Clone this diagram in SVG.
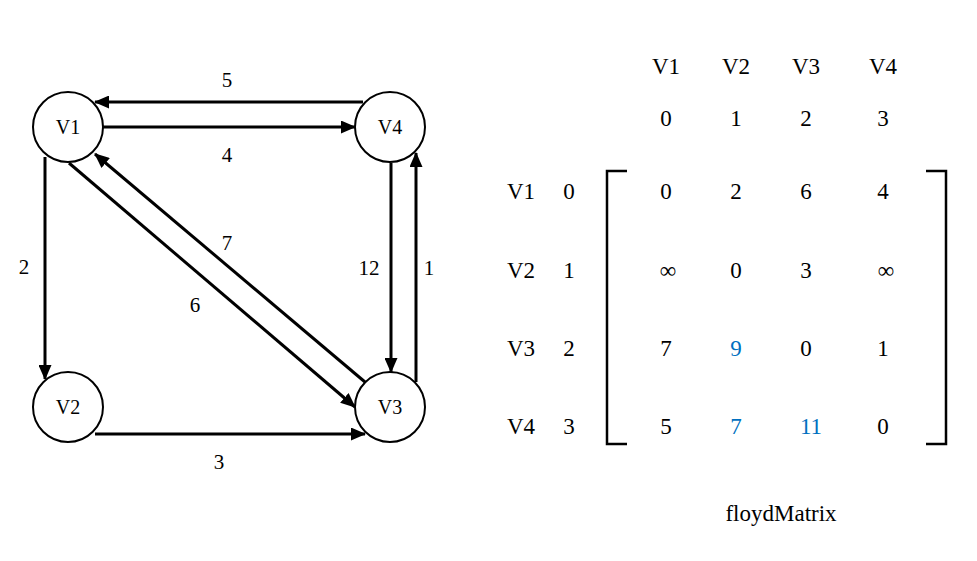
<svg xmlns="http://www.w3.org/2000/svg" width="977" height="561" viewBox="0 0 977 561" font-family="'Liberation Serif','Times New Roman',serif">
<style>
text{font-family:"Liberation Serif","Times New Roman","DejaVu Serif",serif;fill:#000;text-anchor:middle}
.node circle{fill:#fff;stroke:#000;stroke-width:2}
.node text{font-size:20px}
.edge{stroke:#000;stroke-width:3;fill:none;marker-end:url(#arr)}
.el{font-size:21px}
.m{font-size:23px}
.b{fill:#0070C0}
.br{stroke:#000;stroke-width:2.5;fill:none}
</style>
<defs>
<marker id="arr" markerUnits="userSpaceOnUse" markerWidth="15" markerHeight="13" refX="14" refY="6.5" orient="auto">
<path d="M0,0 L15,6.5 L0,13 z" fill="#000"/>
</marker>
</defs>
<rect width="977" height="561" fill="#fff"/>
<g id="connectors">
<line class="edge" x1="363" y1="102" x2="95" y2="102"/>
<line class="edge" x1="103" y1="127" x2="355" y2="127"/>
<line class="edge" x1="45" y1="157" x2="45" y2="379"/>
<line class="edge" x1="95" y1="434" x2="365" y2="434"/>
<line class="edge" x1="391" y1="163" x2="391" y2="372"/>
<line class="edge" x1="416" y1="382" x2="416" y2="153"/>
<line class="edge" x1="69" y1="163" x2="355" y2="407"/>
<line class="edge" x1="365" y1="382" x2="95" y2="154"/>
</g>
<g id="edge-labels">
<text class="el" x="227" y="87">5</text>
<text class="el" x="227" y="162">4</text>
<text class="el" x="24" y="274">2</text>
<text class="el" x="227" y="250">7</text>
<text class="el" x="195" y="312">6</text>
<text class="el" x="369" y="275">12</text>
<text class="el" x="429" y="275">1</text>
<text class="el" x="219" y="469">3</text>
</g>
<g id="V1" class="node"><circle cx="68" cy="127" r="35"/><text x="68" y="134">V1</text></g>
<g id="V4" class="node"><circle cx="390" cy="127" r="35"/><text x="390" y="134">V4</text></g>
<g id="V2" class="node"><circle cx="68" cy="407" r="35"/><text x="68" y="414">V2</text></g>
<g id="V3" class="node"><circle cx="390" cy="407" r="35"/><text x="390" y="414">V3</text></g>
<g id="matrix">
<g class="m">
<text x="666" y="74">V1</text><text x="736" y="74">V2</text><text x="806" y="74">V3</text><text x="883" y="74">V4</text>
<text x="666" y="126">0</text><text x="736" y="126">1</text><text x="806" y="126">2</text><text x="883" y="126">3</text>
<text x="521" y="199">V1</text><text x="569" y="199">0</text>
<text x="521" y="278">V2</text><text x="569" y="278">1</text>
<text x="521" y="356">V3</text><text x="569" y="356">2</text>
<text x="521" y="434">V4</text><text x="569" y="434">3</text>
<text x="666" y="199">0</text><text x="736" y="199">2</text><text x="806" y="199">6</text><text x="883" y="199">4</text>
<text x="668" y="278">∞</text><text x="736" y="278">0</text><text x="806" y="278">3</text><text x="886" y="278">∞</text>
<text x="666" y="356">7</text><text class="b" x="736" y="356">9</text><text x="806" y="356">0</text><text x="883" y="356">1</text>
<text x="666" y="434">5</text><text class="b" x="736" y="434">7</text><text class="b" x="811" y="434">11</text><text x="883" y="434">0</text>
<text x="781" y="521">floydMatrix</text>
</g>
<path class="br" d="M627,171 H607 V444 H627"/>
<path class="br" d="M926,171 H946 V444 H926"/>
</g>
</svg>
